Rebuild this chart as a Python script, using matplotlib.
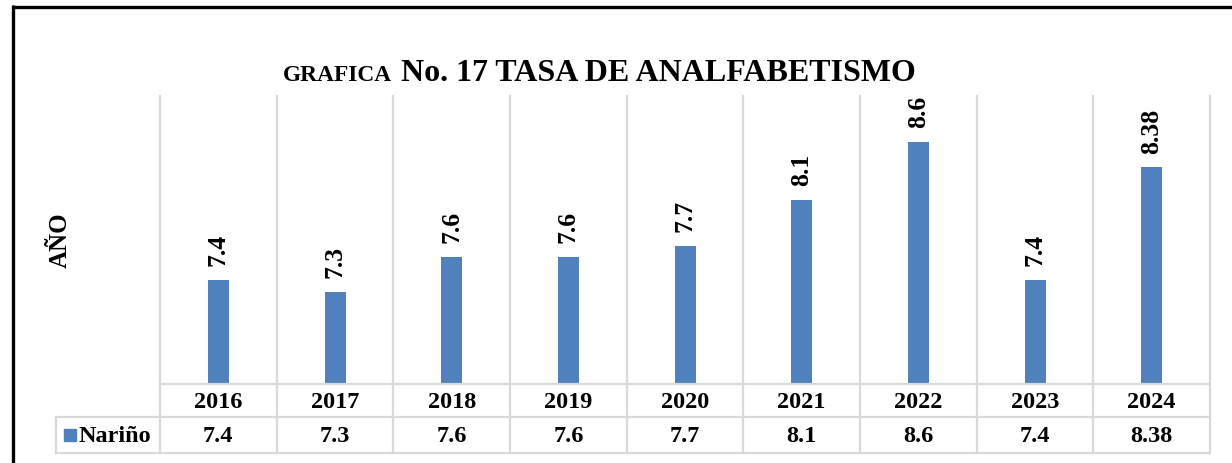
import matplotlib
matplotlib.use("Agg")
import matplotlib.pyplot as plt
from matplotlib.lines import Line2D
from matplotlib.patches import Rectangle
import matplotlib.transforms as mtransforms

years = ["2016", "2017", "2018", "2019", "2020", "2021", "2022", "2023", "2024"]
values = [7.4, 7.3, 7.6, 7.6, 7.7, 8.1, 8.6, 7.4, 8.38]
value_labels = ["7.4", "7.3", "7.6", "7.6", "7.7", "8.1", "8.6", "7.4", "8.38"]
series_name = "Nariño"
title_small = "GRAFICA"
title_main = "No. 17 TASA DE ANALFABETISMO"
ylabel = "AÑO"

FONT = "Liberation Serif"
BLUE = "#4f81bd"
GRID = "#d9d9d9"

W, H = 1232, 463
fig = plt.figure(figsize=(W / 100, H / 100), dpi=100)
fig.patch.set_facecolor("white")

def fx(px):
    return px / W

def fy(py):
    return 1 - py / H

# plot area in pixels
L, R, T, B = 160, 1210, 96, 384
ax = fig.add_axes([fx(L), fy(B), fx(R - L), (B - T) / H])
n = len(years)
x = list(range(n))
ax.bar(x, values, width=0.18, color=BLUE, zorder=3)
ax.set_xlim(-0.5, n - 0.5)
ax.set_ylim(6.5, 9.0)
for s in ax.spines.values():
    s.set_visible(False)
ax.set_xticks([])
ax.set_yticks([])
ax.patch.set_alpha(0)

for xi, v, lab in zip(x, values, value_labels):
    ax.annotate(lab, (xi, v), xytext=(0, 10), textcoords="offset points",
                rotation=90, ha="center", va="bottom", fontsize=18.5,
                fontweight="bold", family=FONT, zorder=4)

# vertical gridlines at category boundaries, extending through the table
trans = mtransforms.blended_transform_factory(ax.transData, fig.transFigure)
for i in range(n + 1):
    xb = i - 0.5
    ax.add_line(Line2D([xb, xb], [fy(453), fy(T)], transform=trans, color=GRID,
                       lw=1.6, clip_on=False, zorder=1))

# horizontal table lines
row1, row2, row3 = 384, 417, 453
fig.add_artist(Line2D([fx(L), fx(R)], [fy(row1), fy(row1)], color=GRID, lw=1.6))
for yy in (row2, row3):
    fig.add_artist(Line2D([fx(56), fx(R)], [fy(yy), fy(yy)], color=GRID, lw=1.6))
fig.add_artist(Line2D([fx(56), fx(56)], [fy(row2), fy(row3)], color=GRID, lw=1.6))

# table texts
for xi, yr, lab in zip(x, years, value_labels):
    ax.text(xi, fy((row1 + row2) / 2 + 2), yr, transform=trans, ha="center", va="center",
            fontsize=17.5, fontweight="bold", family=FONT)
    ax.text(xi, fy((row2 + row3) / 2 + 1), lab, transform=trans, ha="center", va="center",
            fontsize=17.5, fontweight="bold", family=FONT)

# legend key in table
fig.add_artist(Rectangle((fx(64), fy(441)), fx(12), 12 / H, color=BLUE))
fig.text(fx(79), fy((row2 + row3) / 2 + 1), series_name, ha="left", va="center",
         fontsize=17.5, fontweight="bold", family=FONT)

# y label
fig.text(fx(60), fy(240), ylabel, rotation=90, ha="center", va="center",
         fontsize=18, fontweight="bold", family=FONT)

# title
fig.text(fx(392), fy(81), title_small, ha="right", va="baseline",
         fontsize=16.8, fontweight="bold", family=FONT)
fig.text(fx(401), fy(81), title_main, ha="left", va="baseline",
         fontsize=23, fontweight="bold", family=FONT)

# black border (left and top)
fig.add_artist(Line2D([fx(13), fx(13)], [fy(5.3), 0], color="black", lw=2.4,
                      solid_capstyle="butt"))
fig.add_artist(Line2D([fx(11.8), 1], [fy(6.5), fy(6.5)], color="black", lw=2.4,
                      solid_capstyle="butt"))

fig.savefig("out.png", dpi=100, facecolor="white")
